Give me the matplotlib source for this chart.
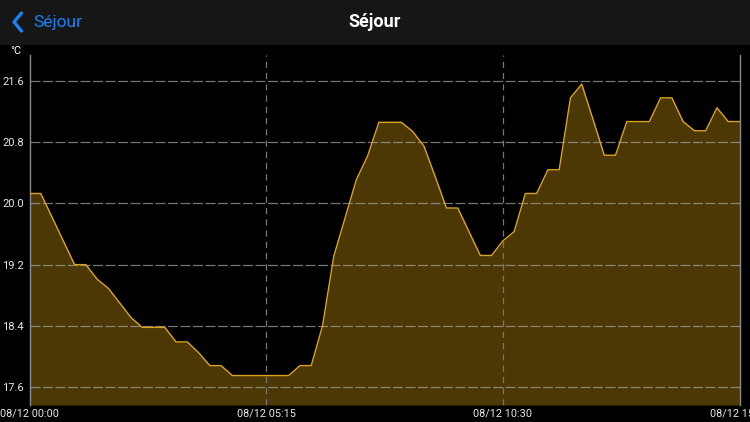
import numpy as np
import matplotlib
matplotlib.use("Agg")
import matplotlib.pyplot as plt
from matplotlib.patches import Rectangle
from matplotlib.lines import Line2D

# temperature readings, one every 15 minutes from 08/12 00:00
minutes = np.arange(64) * 15
temps = [20.13, 20.13, 19.82, 19.51, 19.20, 19.20, 19.01, 18.89, 18.70, 18.51,
         18.38, 18.38, 18.38, 18.19, 18.19, 18.05, 17.88, 17.88, 17.75, 17.75,
         17.75, 17.75, 17.75, 17.75, 17.88, 17.88, 18.40, 19.31, 19.81, 20.31,
         20.62, 21.06, 21.06, 21.06, 20.94, 20.75, 20.35, 19.94, 19.94, 19.63,
         19.32, 19.32, 19.51, 19.63, 20.13, 20.13, 20.44, 20.44, 21.38, 21.56,
         21.10, 20.63, 20.63, 21.07, 21.07, 21.07, 21.38, 21.38, 21.07, 20.95,
         20.95, 21.25, 21.07, 21.07]

y_ticks = [17.6, 18.4, 19.2, 20.0, 20.8, 21.6]
y_labels = ["17.6", "18.4", "19.2", "20.0", "20.8", "21.6"]
x_ticks = [0, 315, 630, 945]
x_labels = ["08/12 00:00", "08/12 05:15", "08/12 10:30", "08/12 15:45"]

TITLE = "Séjour"
BACK = "Séjour"
UNIT = "°C"

W, H = 750, 422
LINE_COLOR = "#dca423"
FILL_COLOR = "#4c3805"
BLUE = "#1a82f0"

plt.rcParams["font.family"] = ["Roboto", "DejaVu Sans"]

fig = plt.figure(figsize=(W / 100, H / 100), dpi=100, facecolor="black")

# header bar
fig.patches.append(Rectangle((0, 1 - 45 / H), 1, 45 / H, transform=fig.transFigure,
                             facecolor="#161616", edgecolor="none", zorder=0))
fig.text(0.5, 1 - 22 / H, TITLE, color="white", fontsize=13, fontweight="bold",
         ha="center", va="center")
fig.text(33 / W, 1 - 22 / H, BACK, color=BLUE, fontsize=12.5, ha="left", va="center")
fig.lines.append(Line2D([21.5 / W, 14 / W, 21.5 / W], [1 - 13 / H, 1 - 22 / H, 1 - 31 / H],
                        transform=fig.transFigure, color=BLUE, lw=2.4,
                        solid_capstyle="round", solid_joinstyle="round"))
fig.text(16 / W, 1 - 51 / H, UNIT, color="white", fontsize=7.8, ha="center", va="center")

ax = fig.add_axes([29.5 / W, (H - 405) / H, 710 / W, 350 / H])
ax.set_facecolor("black")

ymin, ymax = 17.365, 21.94
ax.fill_between(minutes, temps, ymin, color=FILL_COLOR, lw=0, zorder=1)
ax.plot(minutes, temps, color=LINE_COLOR, lw=1.0, zorder=3)

for v in y_ticks:
    ax.axhline(v, color="#a8a8a8", lw=0.9, alpha=0.7, dashes=(8, 2), zorder=2)
for t in x_ticks[1:3]:
    ax.axvline(t, color="#777777", lw=0.9, dashes=(5, 4), zorder=2)

ax.set_xlim(0, 945)
ax.set_ylim(ymin, ymax)
ax.set_yticks(y_ticks)
ax.set_yticklabels(y_labels)
ax.set_xticks(x_ticks)
ax.set_xticklabels(x_labels)
ax.tick_params(axis="both", length=0, colors="#e6e6e6")
ax.tick_params(axis="y", pad=4, labelsize=8)
ax.tick_params(axis="x", pad=2.5, labelsize=7.8)

for side in ["top", "bottom"]:
    ax.spines[side].set_visible(False)
for side in ["left", "right"]:
    ax.spines[side].set_color("#8a8a8a")
    ax.spines[side].set_linewidth(1.0)

fig.savefig("out.png", dpi=100, facecolor="black")
